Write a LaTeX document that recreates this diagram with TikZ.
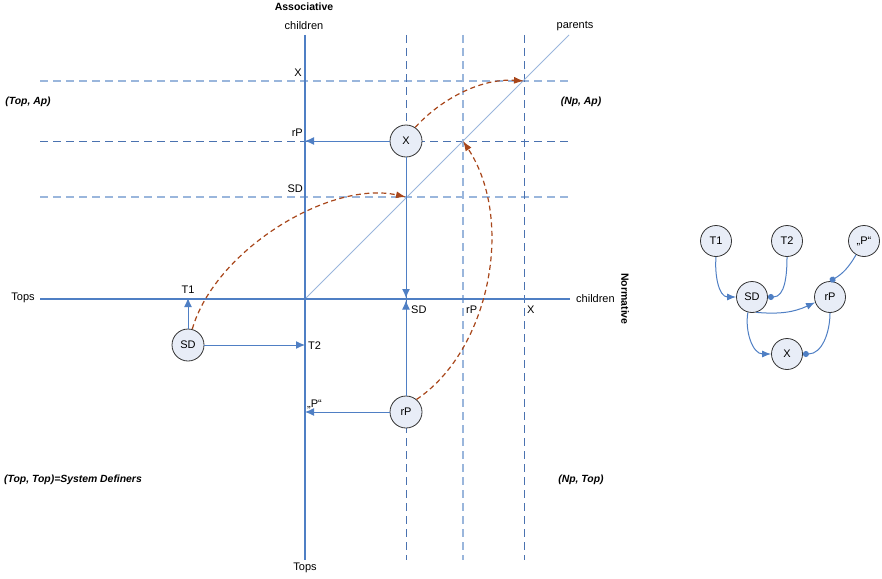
\documentclass[tikz,border=0pt]{standalone}
\usepackage{fontspec}
\setmainfont{Liberation Sans}
\usetikzlibrary{arrows.meta}
\definecolor{axisblue}{HTML}{4F7FC4}
\definecolor{lightblue}{HTML}{9AB6DC}
\definecolor{darkdash}{HTML}{4A72B0}
\definecolor{brn}{HTML}{A8461A}
\definecolor{nodefill}{HTML}{E8EDF7}
\tikzset{
  axisline/.style={draw=axisblue,line width=2pt},
  lightdash/.style={draw=lightblue,line width=2pt,dash pattern=on 8pt off 5pt},
  darkdashline/.style={draw=darkdash,line width=1pt,dash pattern=on 8pt off 5pt},
  diag/.style={draw=lightblue,line width=1pt},
  conn/.style={draw=axisblue,line width=1pt,-{Latex[length=9pt,width=8pt]}},
  bcurve/.style={draw=brn,line width=1.2pt,dash pattern=on 5pt off 3.5pt,-{Latex[length=10pt,width=7pt]}},
  state/.style={circle,draw=black!80,line width=0.8pt,fill=nodefill,minimum size=32pt,inner sep=0pt,font=\fontsize{11}{13}\selectfont},
  gstate/.style={circle,draw=black!80,line width=0.8pt,fill=nodefill,minimum size=31pt,inner sep=0pt,font=\fontsize{11}{13}\selectfont},
  lbl/.style={inner sep=0pt,font=\fontsize{11}{13}\selectfont},
  blbl/.style={inner sep=0pt,font=\fontsize{10.5}{13}\selectfont\bfseries},
  ilbl/.style={inner sep=0pt,font=\fontsize{10.4}{13}\selectfont\bfseries\itshape},
  garrow/.style={draw=axisblue,line width=1pt,-{Latex[length=9pt,width=7pt]}},
  gdot/.style={draw=axisblue,line width=1pt,-{Circle[length=6pt,width=6pt]}},
}
\begin{document}
\begin{tikzpicture}[x=1pt,y=-1pt]
\useasboundingbox (0,0) rectangle (882,578);
% coordinates
\coordinate (vtop) at (305,35);
\coordinate (vbot) at (305,560);
\coordinate (hleft) at (40,299);
\coordinate (hright) at (570,299);
\coordinate (origin) at (305,299);
\coordinate (dend) at (569,35);
\coordinate (ixX) at (524,81);
\coordinate (ixrP) at (463,141);
\coordinate (ixSD) at (406,197);
% dashed grid
\draw[lightdash] (40,81) -- (570,81);
\draw[darkdashline] (40,141) -- (570,141);
\draw[lightdash] (40,197) -- (570,197);
\draw[darkdashline] (406,35) -- (406,560);
\draw[lightdash] (463,35) -- (463,560);
\draw[darkdashline] (524,35) -- (524,560);
% diagonal
\draw[diag] (origin) -- (dend);
% axes
\draw[axisline] (vtop) -- (vbot);
\draw[axisline] (hleft) -- (hright);
% axis labels
\node[blbl] (assoc) at (304,7) {Associative};
\node[lbl] (chtop) at (304,26) {children};
\node[lbl] (parents) at (575,26) {parents};
\node[lbl] (topsb) at (305,568) {Tops};
\node[lbl] (topsl) at (23,298) {Tops};
\node[lbl,anchor=west] (chr) at (576,299) {children};
\node[blbl,rotate=-90] (norm) at (625,299) {Normative};
% quadrant labels
\node[ilbl] (q1) at (28,102) {(Top, Ap)};
\node[ilbl] (q2) at (581,102) {(Np, Ap)};
\node[ilbl,anchor=west] (q3) at (4,480) {(Top, Top)=System Definers};
\node[ilbl] (q4) at (581,480) {(Np, Top)};
% tick labels
\node[lbl,anchor=east] (lX) at (302,73) {X};
\node[lbl,anchor=east] (lrP) at (303,133) {rP};
\node[lbl,anchor=east] (lSD) at (303,189) {SD};
\node[lbl] (lT1) at (188,290) {T1};
\node[lbl,anchor=west] (lT2) at (308,346) {T2};
\node[lbl,anchor=west] (lP) at (307,404) {„P“};
\node[lbl,anchor=west] (bSD) at (411,310) {SD};
\node[lbl,anchor=west] (brP) at (466,310) {rP};
\node[lbl,anchor=west] (bX) at (527,310) {X};
% nodes
\node[state] (xn) at (406,141) {X};
\node[state] (sdn) at (188,345) {SD};
\node[state] (rpn) at (406,412) {rP};
% targets
\coordinate (xTarget) at (305,141);
\coordinate (xDown) at (406,298);
\coordinate (rpUp) at (406,300.5);
\coordinate (rpTarget) at (305,412);
\coordinate (sdUp) at (188,298);
\coordinate (sdRight) at (305,345);
% solid arrows
\draw[conn] (xn) -- (xTarget);
\draw[conn] (xn) -- (xDown);
\draw[conn] (rpn) -- (rpUp);
\draw[conn] (rpn) -- (rpTarget);
\draw[conn] (sdn) -- (sdUp);
\draw[conn] (sdn) -- (sdRight);
% brown curves
\draw[bcurve] (xn.56) .. controls (440,100) and (480,78) .. (ixX);
\draw[bcurve] (sdn.75) .. controls (215,250) and (330,180) .. (ixSD);
\draw[bcurve] (rpn.50) .. controls (490,350) and (515,220) .. (ixrP);
% small graph
\node[gstate] (gT1) at (716,241) {T1};
\node[gstate] (gT2) at (787,241) {T2};
\node[gstate] (gP) at (864,241) {„P“};
\node[gstate] (gSD) at (752,297) {SD};
\node[gstate] (grP) at (830,297) {rP};
\node[gstate] (gX) at (787,354) {X};
\draw[garrow] (gT1.south) to[out=-95,in=180] (gSD.west);
\draw[gdot] (gT2.south) to[out=-90,in=0] (gSD.east);
\draw[gdot] (gP.-120) to[out=-120,in=30] (grP.north);
\draw[garrow] (gSD.-75) to[out=-5,in=205] (grP.200);
\draw[garrow] (gSD.-105) to[out=-100,in=180] (gX.west);
\draw[gdot] (grP.south) to[out=-90,in=0] (gX.east);
\end{tikzpicture}
\end{document}
